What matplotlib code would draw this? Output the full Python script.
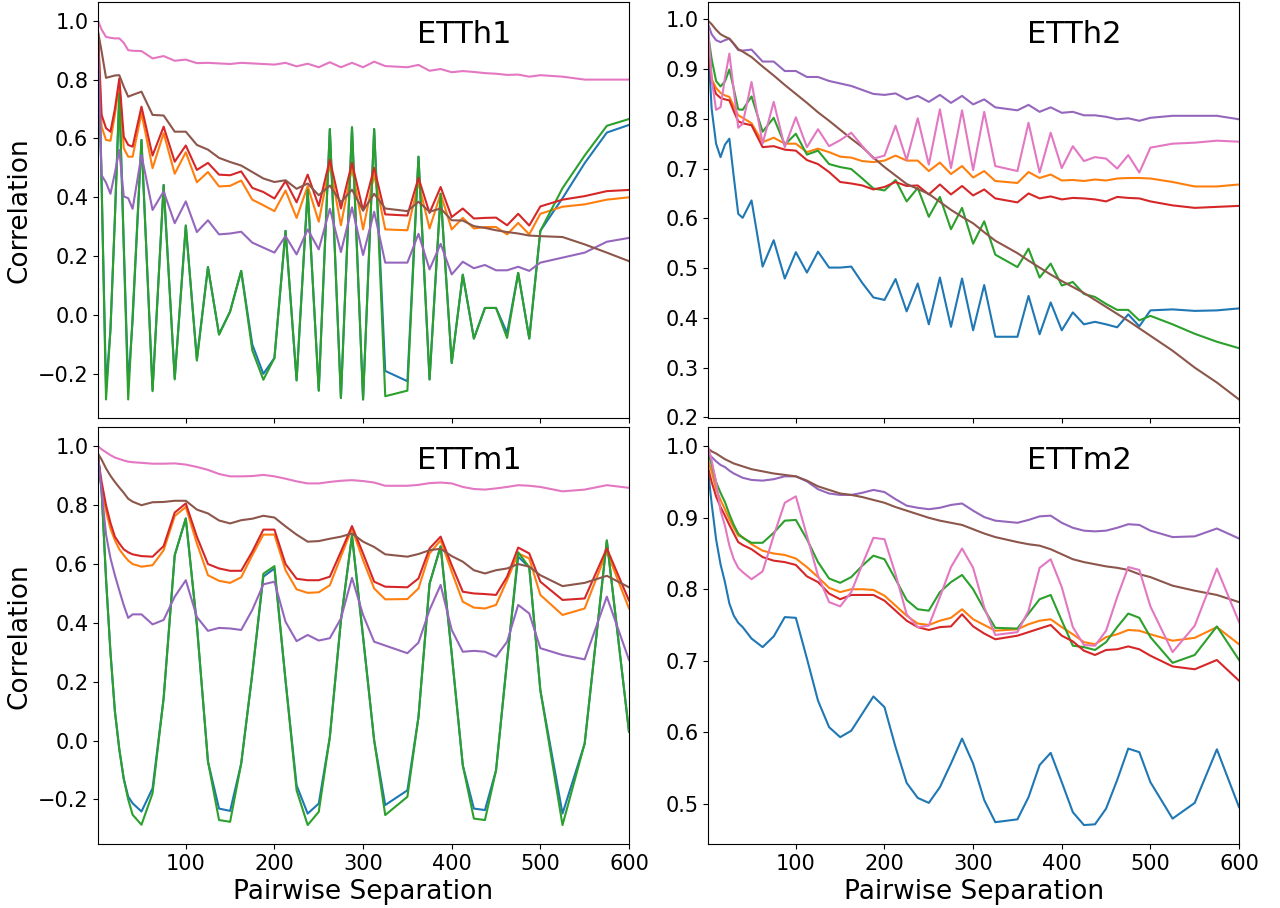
import matplotlib
matplotlib.use("Agg")
import matplotlib.pyplot as plt

X = [1, 5, 10, 15, 20, 25, 30, 35, 40, 50, 62.5, 75, 87.5, 100, 112.5, 125, 137.5,
     150, 162.5, 175, 187.5, 200, 212.5, 225, 237.5, 250, 262.5, 275, 287.5, 300,
     312.5, 325, 350, 362.5, 375, 387.5, 400, 412.5, 425, 437.5, 450, 462.5, 475,
     487.5, 500, 525, 550, 575, 600]

panel_names = ["ETTh1", "ETTh2", "ETTm1", "ETTm2"]

# ---------------- ETTh1 ----------------
etth1_c0 = [0.95, 0.45, -0.248, -0.05, 0.33, 0.75, 0.24, -0.236, -0.02, 0.595, -0.255, 0.442, -0.215,
            0.304, -0.15, 0.163, -0.065, 0.012, 0.15, -0.10, -0.20, -0.146, 0.286, -0.222, 0.425,
            -0.257, 0.632, -0.282, 0.638, -0.287, 0.632, -0.19, -0.225, 0.538, -0.219, 0.412, -0.163,
            0.137, -0.08, 0.024, 0.024, -0.061, 0.143, -0.08, 0.286, 0.397, 0.516, 0.62, 0.646]
etth1_c1 = [0.95, 0.64, 0.595, 0.592, 0.68, 0.787, 0.567, 0.538, 0.538, 0.686, 0.499, 0.618, 0.48,
            0.553, 0.451, 0.486, 0.437, 0.439, 0.457, 0.392, 0.373, 0.353, 0.423, 0.33, 0.438, 0.317,
            0.511, 0.305, 0.5, 0.291, 0.477, 0.291, 0.288, 0.449, 0.294, 0.412, 0.291, 0.33, 0.294,
            0.299, 0.299, 0.274, 0.313, 0.274, 0.344, 0.368, 0.376, 0.392, 0.40]
etth1_c2 = [0.95, 0.45, -0.287, -0.05, 0.33, 0.753, 0.233, -0.287, 0.0, 0.595, -0.259, 0.442, -0.219,
            0.304, -0.155, 0.163, -0.067, 0.012, 0.15, -0.12, -0.22, -0.146, 0.286, -0.222, 0.425,
            -0.257, 0.632, -0.282, 0.638, -0.287, 0.632, -0.276, -0.257, 0.538, -0.219, 0.412, -0.163,
            0.137, -0.08, 0.024, 0.024, -0.078, 0.143, -0.08, 0.286, 0.431, 0.542, 0.643, 0.666]
etth1_c3 = [0.96, 0.68, 0.635, 0.623, 0.70, 0.804, 0.606, 0.578, 0.572, 0.708, 0.542, 0.64, 0.521,
            0.576, 0.493, 0.517, 0.477, 0.475, 0.488, 0.432, 0.418, 0.396, 0.455, 0.383, 0.477, 0.37,
            0.528, 0.362, 0.517, 0.355, 0.50, 0.342, 0.338, 0.466, 0.347, 0.435, 0.333, 0.362, 0.328,
            0.33, 0.331, 0.305, 0.344, 0.304, 0.369, 0.392, 0.404, 0.421, 0.425]
etth1_c4 = [0.93, 0.475, 0.45, 0.412, 0.483, 0.561, 0.403, 0.397, 0.361, 0.544, 0.357, 0.42, 0.312,
            0.386, 0.282, 0.322, 0.274, 0.277, 0.283, 0.246, 0.229, 0.212, 0.268, 0.206, 0.291, 0.223,
            0.361, 0.214, 0.366, 0.204, 0.351, 0.178, 0.178, 0.276, 0.155, 0.242, 0.138, 0.181, 0.159,
            0.17, 0.152, 0.152, 0.164, 0.15, 0.178, 0.195, 0.212, 0.249, 0.262]
etth1_c5 = [0.963, 0.896, 0.806, 0.81, 0.814, 0.815, 0.776, 0.742, 0.748, 0.759, 0.68, 0.678, 0.623,
            0.623, 0.578, 0.562, 0.534, 0.52, 0.508, 0.486, 0.464, 0.452, 0.458, 0.429, 0.447, 0.407,
            0.44, 0.383, 0.426, 0.355, 0.412, 0.362, 0.353, 0.385, 0.351, 0.362, 0.322, 0.321, 0.302,
            0.296, 0.288, 0.282, 0.277, 0.27, 0.268, 0.265, 0.24, 0.212, 0.183]
etth1_c6 = [1.0, 0.97, 0.945, 0.942, 0.94, 0.94, 0.925, 0.90, 0.898, 0.897, 0.872, 0.88, 0.864,
            0.868, 0.856, 0.857, 0.855, 0.853, 0.857, 0.855, 0.853, 0.851, 0.857, 0.845, 0.854, 0.842,
            0.859, 0.842, 0.857, 0.842, 0.861, 0.846, 0.842, 0.85, 0.83, 0.836, 0.825, 0.829, 0.826,
            0.822, 0.82, 0.816, 0.817, 0.81, 0.815, 0.81, 0.80, 0.80, 0.80]

# ---------------- ETTh2 ----------------
etth2_c0 = [0.95, 0.82, 0.75, 0.723, 0.748, 0.76, 0.683, 0.609, 0.601, 0.636, 0.503, 0.556, 0.479,
            0.532, 0.491, 0.533, 0.501, 0.501, 0.503, 0.47, 0.441, 0.436, 0.478, 0.413, 0.469, 0.387,
            0.481, 0.382, 0.479, 0.375, 0.466, 0.362, 0.362, 0.444, 0.367, 0.431, 0.375, 0.411, 0.387,
            0.392, 0.387, 0.381, 0.407, 0.383, 0.415, 0.417, 0.414, 0.415, 0.419]
etth2_c1 = [0.97, 0.88, 0.862, 0.852, 0.847, 0.844, 0.825, 0.807, 0.802, 0.791, 0.753, 0.762, 0.75,
            0.75, 0.733, 0.74, 0.733, 0.724, 0.722, 0.715, 0.713, 0.716, 0.726, 0.716, 0.716, 0.695,
            0.712, 0.689, 0.705, 0.682, 0.695, 0.675, 0.671, 0.693, 0.681, 0.688, 0.676, 0.677, 0.675,
            0.678, 0.676, 0.68, 0.681, 0.681, 0.68, 0.673, 0.664, 0.664, 0.668]
etth2_c2 = [0.97, 0.92, 0.876, 0.865, 0.875, 0.899, 0.86, 0.819, 0.818, 0.845, 0.774, 0.802, 0.748,
            0.77, 0.728, 0.736, 0.709, 0.703, 0.699, 0.68, 0.66, 0.656, 0.677, 0.634, 0.661, 0.603,
            0.643, 0.578, 0.621, 0.549, 0.594, 0.527, 0.502, 0.539, 0.481, 0.509, 0.465, 0.472, 0.448,
            0.442, 0.428, 0.416, 0.416, 0.395, 0.404, 0.387, 0.368, 0.352, 0.339]
etth2_c3 = [0.96, 0.875, 0.85, 0.842, 0.839, 0.837, 0.815, 0.795, 0.791, 0.787, 0.743, 0.745, 0.738,
            0.736, 0.717, 0.709, 0.693, 0.673, 0.67, 0.666, 0.658, 0.663, 0.673, 0.665, 0.666, 0.648,
            0.668, 0.648, 0.665, 0.646, 0.658, 0.64, 0.632, 0.65, 0.64, 0.644, 0.638, 0.641, 0.64,
            0.638, 0.634, 0.643, 0.641, 0.64, 0.634, 0.626, 0.621, 0.623, 0.625]
etth2_c4 = [0.99, 0.97, 0.958, 0.954, 0.958, 0.961, 0.95, 0.938, 0.937, 0.939, 0.915, 0.915, 0.896,
            0.896, 0.884, 0.884, 0.876, 0.871, 0.866, 0.858, 0.85, 0.848, 0.851, 0.839, 0.846, 0.834,
            0.848, 0.832, 0.846, 0.829, 0.839, 0.823, 0.817, 0.828, 0.814, 0.823, 0.812, 0.814, 0.807,
            0.807, 0.804, 0.799, 0.801, 0.796, 0.802, 0.806, 0.806, 0.806, 0.799]
etth2_c5 = [0.997, 0.99, 0.979, 0.97, 0.965, 0.961, 0.951, 0.94, 0.935, 0.924, 0.905, 0.887, 0.868,
            0.85, 0.832, 0.813, 0.796, 0.778, 0.76, 0.743, 0.722, 0.703, 0.686, 0.669, 0.659, 0.649,
            0.633, 0.617, 0.603, 0.59, 0.572, 0.555, 0.53, 0.515, 0.501, 0.487, 0.474, 0.462, 0.45,
            0.436, 0.422, 0.408, 0.394, 0.379, 0.364, 0.334, 0.30, 0.27, 0.236]
etth2_c6 = [0.985, 0.88, 0.818, 0.823, 0.882, 0.931, 0.857, 0.782, 0.79, 0.874, 0.75, 0.834, 0.743,
            0.803, 0.743, 0.779, 0.745, 0.757, 0.772, 0.745, 0.72, 0.726, 0.786, 0.717, 0.801, 0.708,
            0.819, 0.701, 0.817, 0.697, 0.814, 0.705, 0.695, 0.792, 0.692, 0.772, 0.701, 0.745, 0.715,
            0.723, 0.72, 0.70, 0.727, 0.692, 0.742, 0.75, 0.752, 0.756, 0.754]

# ---------------- ETTm1 ----------------
ettm1_c0 = [0.97, 0.85, 0.55, 0.30, 0.10, -0.03, -0.13, -0.19, -0.213, -0.241, -0.162, 0.144, 0.63,
            0.755, 0.393, -0.071, -0.231, -0.239, -0.078, 0.227, 0.557, 0.585, 0.205, -0.152, -0.248,
            -0.214, 0.012, 0.408, 0.697, 0.352, 0.001, -0.219, -0.169, 0.08, 0.533, 0.66, 0.295,
            -0.084, -0.231, -0.236, -0.101, 0.273, 0.625, 0.589, 0.171, -0.248, -0.01, 0.68, 0.03]
ettm1_c1 = [0.95, 0.86, 0.78, 0.72, 0.681, 0.65, 0.63, 0.612, 0.60, 0.591, 0.596, 0.647, 0.763,
            0.794, 0.67, 0.562, 0.543, 0.536, 0.555, 0.63, 0.70, 0.70, 0.579, 0.514, 0.502, 0.504,
            0.528, 0.625, 0.721, 0.613, 0.517, 0.48, 0.481, 0.517, 0.636, 0.681, 0.574, 0.472, 0.452,
            0.449, 0.461, 0.545, 0.636, 0.619, 0.495, 0.427, 0.449, 0.642, 0.449]
ettm1_c2 = [0.97, 0.85, 0.55, 0.30, 0.10, -0.03, -0.13, -0.20, -0.252, -0.286, -0.179, 0.144, 0.63,
            0.755, 0.393, -0.071, -0.27, -0.276, -0.078, 0.227, 0.567, 0.593, 0.205, -0.169, -0.287,
            -0.242, 0.012, 0.408, 0.697, 0.352, 0.001, -0.253, -0.191, 0.08, 0.533, 0.66, 0.295,
            -0.084, -0.265, -0.27, -0.101, 0.273, 0.64, 0.589, 0.171, -0.287, -0.01, 0.68, 0.03]
ettm1_c3 = [0.96, 0.88, 0.80, 0.74, 0.693, 0.67, 0.65, 0.64, 0.633, 0.627, 0.625, 0.661, 0.775,
            0.806, 0.693, 0.60, 0.585, 0.577, 0.577, 0.642, 0.717, 0.717, 0.60, 0.55, 0.545, 0.545,
            0.557, 0.642, 0.729, 0.636, 0.54, 0.523, 0.521, 0.551, 0.653, 0.693, 0.596, 0.506, 0.50,
            0.498, 0.495, 0.557, 0.656, 0.636, 0.54, 0.478, 0.483, 0.653, 0.476]
ettm1_c4 = [0.97, 0.85, 0.70, 0.62, 0.562, 0.51, 0.46, 0.417, 0.429, 0.429, 0.395, 0.41, 0.489,
            0.545, 0.42, 0.373, 0.383, 0.381, 0.376, 0.444, 0.531, 0.54, 0.404, 0.338, 0.359, 0.34,
            0.348, 0.415, 0.553, 0.427, 0.336, 0.323, 0.297, 0.333, 0.444, 0.529, 0.376, 0.302, 0.305,
            0.302, 0.285, 0.336, 0.461, 0.432, 0.314, 0.291, 0.276, 0.489, 0.274]
ettm1_c5 = [0.975, 0.955, 0.925, 0.90, 0.879, 0.86, 0.842, 0.822, 0.812, 0.80, 0.81, 0.811, 0.815,
            0.815, 0.785, 0.772, 0.748, 0.738, 0.749, 0.754, 0.764, 0.758, 0.728, 0.70, 0.676, 0.678,
            0.686, 0.693, 0.704, 0.676, 0.658, 0.633, 0.625, 0.634, 0.647, 0.652, 0.627, 0.608, 0.579,
            0.568, 0.579, 0.585, 0.60, 0.591, 0.562, 0.525, 0.536, 0.56, 0.521]
ettm1_c6 = [1.0, 0.99, 0.98, 0.97, 0.962, 0.957, 0.952, 0.948, 0.946, 0.944, 0.941, 0.941, 0.942,
            0.938, 0.93, 0.92, 0.906, 0.898, 0.898, 0.899, 0.903, 0.898, 0.89, 0.881, 0.874, 0.874,
            0.879, 0.883, 0.885, 0.882, 0.877, 0.866, 0.866, 0.869, 0.875, 0.877, 0.874, 0.862, 0.855,
            0.853, 0.857, 0.862, 0.868, 0.866, 0.862, 0.847, 0.853, 0.868, 0.859]

# ---------------- ETTm2 ----------------
ettm2_c0 = [0.965, 0.92, 0.87, 0.835, 0.81, 0.78, 0.763, 0.753, 0.747, 0.731, 0.719, 0.734, 0.761,
            0.76, 0.703, 0.644, 0.607, 0.593, 0.602, 0.626, 0.65, 0.635, 0.579, 0.529, 0.508, 0.501,
            0.523, 0.556, 0.591, 0.556, 0.505, 0.474, 0.478, 0.509, 0.554, 0.571, 0.53, 0.488, 0.47,
            0.471, 0.493, 0.533, 0.577, 0.572, 0.53, 0.479, 0.501, 0.576, 0.495]
ettm2_c1 = [0.98, 0.965, 0.94, 0.925, 0.912, 0.898, 0.886, 0.875, 0.873, 0.863, 0.854, 0.85, 0.848,
            0.843, 0.831, 0.817, 0.802, 0.796, 0.80, 0.80, 0.799, 0.791, 0.777, 0.763, 0.752, 0.75,
            0.756, 0.76, 0.772, 0.758, 0.75, 0.742, 0.744, 0.751, 0.756, 0.758, 0.747, 0.737, 0.726,
            0.723, 0.733, 0.737, 0.743, 0.742, 0.737, 0.728, 0.732, 0.747, 0.723]
ettm2_c2 = [0.99, 0.975, 0.95, 0.935, 0.922, 0.905, 0.89, 0.878, 0.872, 0.865, 0.865, 0.879, 0.896,
            0.897, 0.87, 0.838, 0.815, 0.809, 0.817, 0.833, 0.847, 0.842, 0.814, 0.785, 0.772, 0.77,
            0.796, 0.81, 0.82, 0.80, 0.772, 0.746, 0.745, 0.766, 0.786, 0.792, 0.756, 0.721, 0.719,
            0.715, 0.726, 0.747, 0.766, 0.76, 0.733, 0.697, 0.708, 0.748, 0.701]
ettm2_c3 = [0.97, 0.95, 0.93, 0.915, 0.903, 0.89, 0.878, 0.866, 0.862, 0.856, 0.845, 0.84, 0.838,
            0.834, 0.818, 0.81, 0.794, 0.786, 0.792, 0.792, 0.792, 0.784, 0.77, 0.756, 0.747, 0.743,
            0.747, 0.748, 0.765, 0.748, 0.738, 0.73, 0.735, 0.74, 0.745, 0.75, 0.735, 0.727, 0.714,
            0.708, 0.715, 0.716, 0.72, 0.716, 0.707, 0.692, 0.688, 0.701, 0.672]
ettm2_c4 = [0.99, 0.985, 0.979, 0.974, 0.971, 0.966, 0.962, 0.959, 0.956, 0.953, 0.952, 0.954, 0.958,
            0.958, 0.951, 0.94, 0.934, 0.932, 0.932, 0.935, 0.939, 0.936, 0.926, 0.917, 0.914, 0.912,
            0.914, 0.918, 0.92, 0.91, 0.901, 0.896, 0.893, 0.897, 0.902, 0.903, 0.893, 0.886, 0.882,
            0.881, 0.882, 0.886, 0.891, 0.89, 0.882, 0.873, 0.874, 0.885, 0.871]
ettm2_c5 = [0.997, 0.993, 0.99, 0.986, 0.982, 0.979, 0.976, 0.974, 0.972, 0.968, 0.965, 0.962, 0.96,
            0.958, 0.952, 0.944, 0.939, 0.934, 0.932, 0.929, 0.925, 0.921, 0.915, 0.91, 0.905, 0.90,
            0.896, 0.893, 0.89, 0.884, 0.878, 0.873, 0.866, 0.863, 0.861, 0.856, 0.849, 0.842, 0.838,
            0.835, 0.832, 0.83, 0.827, 0.821, 0.817, 0.805, 0.798, 0.792, 0.782]
ettm2_c6 = [1.0, 0.98, 0.95, 0.91, 0.889, 0.861, 0.842, 0.83, 0.824, 0.814, 0.825, 0.875, 0.921,
            0.93, 0.875, 0.819, 0.782, 0.776, 0.796, 0.835, 0.872, 0.87, 0.821, 0.765, 0.747, 0.749,
            0.789, 0.831, 0.857, 0.83, 0.775, 0.736, 0.74, 0.77, 0.83, 0.842, 0.803, 0.747, 0.722,
            0.721, 0.742, 0.789, 0.831, 0.827, 0.776, 0.712, 0.749, 0.829, 0.754]

panel_series = [
    [etth1_c0, etth1_c1, etth1_c2, etth1_c3, etth1_c4, etth1_c5, etth1_c6],
    [etth2_c0, etth2_c1, etth2_c2, etth2_c3, etth2_c4, etth2_c5, etth2_c6],
    [ettm1_c0, ettm1_c1, ettm1_c2, ettm1_c3, ettm1_c4, ettm1_c5, ettm1_c6],
    [ettm2_c0, ettm2_c1, ettm2_c2, ettm2_c3, ettm2_c4, ettm2_c5, ettm2_c6],
]

colors = ["#1f77b4", "#ff7f0e", "#2ca02c", "#d62728", "#9467bd", "#8c564b", "#e377c2"]

fig, axes = plt.subplots(2, 2, figsize=(12.8, 9.08), dpi=100, sharex=True)
fig.subplots_adjust(left=0.0766, right=0.968, top=0.998, bottom=0.0705,
                    wspace=0.149, hspace=0.0216)

for ax, name, series in zip(axes.flat, panel_names, panel_series):
    for ys, c in zip(series, colors):
        ax.plot(X, ys, color=c, linewidth=1.5)
    ax.set_xlim(1, 600)
    ax.tick_params(labelsize=15)
    ax.text(0.6, 0.9, name, transform=ax.transAxes, fontsize=22)

for ax in axes[:, 0]:
    ax.set_ylabel("Correlation", fontsize=19)
for ax in axes[1, :]:
    ax.set_xlabel("Pairwise Separation", fontsize=19)

fig.savefig("out.png", dpi=100)
